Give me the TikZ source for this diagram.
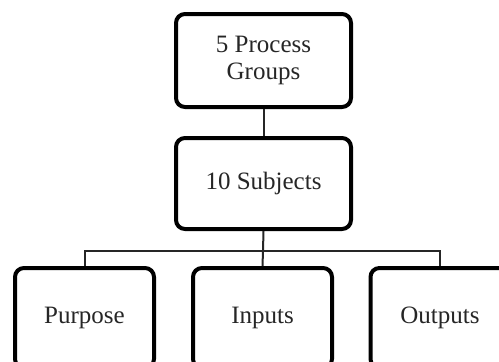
\documentclass[tikz,border=0pt]{standalone}
\usepackage{fontspec}
\setmainfont{Liberation Serif}
\begin{document}
\begin{tikzpicture}[x=1pt,y=-1pt,
  box/.style={draw=black,line width=4pt,rounded corners=9pt,inner sep=0pt,
    font=\fontsize{25}{27}\selectfont,align=center,text=black!85},
  link/.style={draw=black!85,line width=2pt}]
\useasboundingbox (0,0) rectangle (499,362);
\clip (0,0) rectangle (499,362);
\node[box,minimum width=175pt,minimum height=93pt] (pg) at (263.5,60.5) {5 Process\\Groups};
\node[box,minimum width=175pt,minimum height=91pt] (sub) at (263.5,183.5) {10 Subjects};
\node[box,minimum width=139pt,minimum height=100pt] (pur) at (84.5,318) {Purpose};
\node[box,minimum width=139pt,minimum height=100pt] (inp) at (262.5,318) {Inputs};
\node[box,minimum width=139pt,minimum height=100pt] (out) at (440,318) {Outputs};
\coordinate (j) at (263,251);
\draw[link] (pg.south) -- (sub.north);
\draw[link] (sub.south) -- (j);
\draw[link] (pur.north) |- (j) -| (out.north);
\draw[link] (j) -- (inp.north);
\end{tikzpicture}
\end{document}
